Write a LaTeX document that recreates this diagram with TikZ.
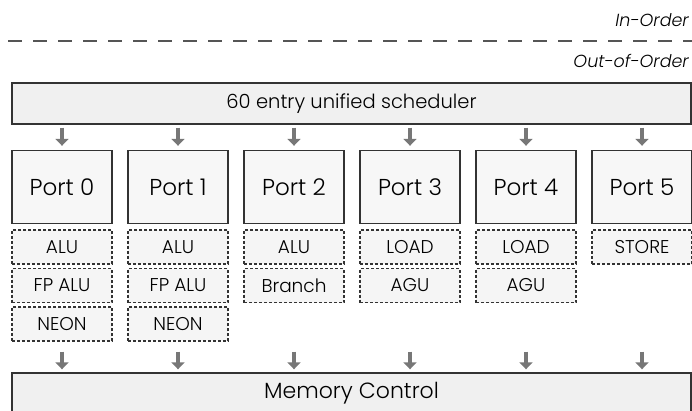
\documentclass[tikz,border=0pt]{standalone}
\usepackage{fontspec}
\setmainfont{Poppins}[UprightFont=* Light, ItalicFont=* Light Italic]
\usetikzlibrary{arrows.meta,positioning}
\definecolor{edge}{RGB}{51,51,51}
\definecolor{flow}{RGB}{119,119,119}
\definecolor{split}{RGB}{85,85,85}

\begin{document}
\begin{tikzpicture}[
  x=1pt, y=-1pt,
  bar/.style={draw=edge, line width=1.4pt, fill=black!6, minimum width=679pt,
              minimum height=41pt, inner sep=0pt, font=\fontsize{19.5}{24}\selectfont},
  port/.style={draw=edge, line width=1.4pt, fill=black!3, minimum width=100pt,
               minimum height=73pt, inner sep=0pt, font=\fontsize{23}{27}\selectfont},
  unit/.style={draw=edge, line width=1.1pt, dash pattern=on 3pt off 2pt, fill=black!4,
               minimum width=100pt, minimum height=34pt, inner sep=0pt,
               font=\fontsize{18.5}{22}\selectfont},
  a/.style={draw=flow, line width=3.8pt, -{Triangle[width=13pt, length=7pt]}},
  tag/.style={anchor=east, inner sep=0pt, font=\fontsize{17.5}{21}\selectfont\itshape}
]
\useasboundingbox (0,0) rectangle (692,410);

% ---- in-order / out-of-order split ----
\coordinate (cl) at (0,41);
\coordinate (cr) at (692,41);
\draw[split, line width=2pt, dash pattern=on 14pt off 11pt, dash phase=17pt] (cl) -- (cr);
\node[tag] (ino)  at (689,20) {In-Order};
\node[tag] (ooo)  at (689,61) {Out-of-Order};

% ---- scheduler and ports ----
\node[bar]  (sched) at (351.5,103.5) {60 entry unified scheduler};
\node[port] (p0) at (62,187)  {Port 0};
\node[port] (p1) at (178,187) {Port 1};
\node[port] (p2) at (294,187) {Port 2};
\node[port] (p3) at (410,187) {Port 3};
\node[port] (p4) at (526,187) {Port 4};
\node[port] (p5) at (642,187) {Port 5};

% ---- execution units ----
\node[unit] (a0) at (62,247)   {ALU};
\node[unit] (f0) at (62,285.5) {FP ALU};
\node[unit] (n0) at (62,324)   {NEON};
\node[unit] (a1) at (178,247)   {ALU};
\node[unit] (f1) at (178,285.5) {FP ALU};
\node[unit] (n1) at (178,324)   {NEON};
\node[unit] (a2) at (294,247)   {ALU};
\node[unit] (b2) at (294,285.5) {Branch};
\node[unit] (l3) at (410,247)   {LOAD};
\node[unit] (g3) at (410,285.5) {AGU};
\node[unit] (l4) at (526,247)   {LOAD};
\node[unit] (g4) at (526,285.5) {AGU};
\node[unit] (s5) at (642,247)   {STORE};

\node[bar, font=\fontsize{22}{26}\selectfont] (mem) at (351.5,393.5) {Memory Control};

% ---- scheduler -> ports ----
\draw[a, shorten <=3pt, shorten >=4pt] (sched.south -| p0) -- (p0.north);
\draw[a, shorten <=3pt, shorten >=4pt] (sched.south -| p1) -- (p1.north);
\draw[a, shorten <=3pt, shorten >=4pt] (sched.south -| p2) -- (p2.north);
\draw[a, shorten <=3pt, shorten >=4pt] (sched.south -| p3) -- (p3.north);
\draw[a, shorten <=3pt, shorten >=4pt] (sched.south -| p4) -- (p4.north);
\draw[a, shorten <=3pt, shorten >=4pt] (sched.south -| p5) -- (p5.north);

% ---- units -> memory control ----
\draw[a, shorten <=10pt, shorten >=3pt] (n0.south) -- (mem.north -| n0);
\draw[a, shorten <=10pt, shorten >=3pt] (n1.south) -- (mem.north -| n1);
\draw[a, shorten <=10pt, shorten >=3pt] (n0.south -| b2) -- (mem.north -| b2);
\draw[a, shorten <=10pt, shorten >=3pt] (n0.south -| g3) -- (mem.north -| g3);
\draw[a, shorten <=10pt, shorten >=3pt] (n0.south -| g4) -- (mem.north -| g4);
\draw[a, shorten <=10pt, shorten >=3pt] (n0.south -| s5) -- (mem.north -| s5);
\end{tikzpicture}
\end{document}
